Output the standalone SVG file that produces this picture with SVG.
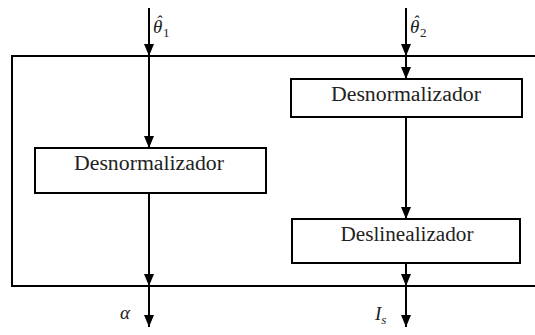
<svg xmlns="http://www.w3.org/2000/svg" width="535" height="335" viewBox="0 0 535 335">
<style>
.box{fill:#fff;stroke:#000;stroke-width:2}
.frame{fill:none;stroke:#000;stroke-width:2}
.c{stroke:#000;stroke-width:2;fill:none}
.t{font-family:'Liberation Serif','DejaVu Serif',serif;font-size:20px;fill:#222;text-anchor:middle}
.m{font-family:'Liberation Serif','DejaVu Serif',serif;font-style:italic;font-size:19px;fill:#222}
.s{font-family:'Liberation Serif','DejaVu Serif',serif;font-size:13px;font-style:normal}
</style>
<defs>
<marker id="a" markerUnits="userSpaceOnUse" markerWidth="12" markerHeight="10" viewBox="0 0 12 10" refX="12" refY="5" orient="auto">
<path d="M0,0 L12,5 L0,10 Z" fill="#000"/>
</marker>
</defs>
<rect id="frame" class="frame" x="12" y="56" width="540" height="230"/>
<g id="connectors">
<line class="c" x1="149" y1="8" x2="149" y2="56" marker-end="url(#a)"/>
<line class="c" x1="149" y1="56" x2="149" y2="148" marker-end="url(#a)"/>
<line class="c" x1="149" y1="193" x2="149" y2="286" marker-end="url(#a)"/>
<line class="c" x1="149" y1="286" x2="149" y2="327" marker-end="url(#a)"/>
<line class="c" x1="406" y1="8" x2="406" y2="56" marker-end="url(#a)"/>
<line class="c" x1="406" y1="56" x2="406" y2="79" marker-end="url(#a)"/>
<line class="c" x1="406" y1="117" x2="406" y2="219" marker-end="url(#a)"/>
<line class="c" x1="406" y1="263" x2="406" y2="286" marker-end="url(#a)"/>
<line class="c" x1="406" y1="286" x2="406" y2="327" marker-end="url(#a)"/>
</g>
<g id="desnorm1">
<rect class="box" x="35" y="148" width="231" height="45"/>
<text class="t" x="149" y="170" textLength="150" lengthAdjust="spacingAndGlyphs">Desnormalizador</text>
</g>
<g id="desnorm2">
<rect class="box" x="291" y="79" width="231" height="38"/>
<text class="t" x="406" y="101" textLength="150" lengthAdjust="spacingAndGlyphs">Desnormalizador</text>
</g>
<g id="deslin">
<rect class="box" x="292" y="219" width="228" height="44"/>
<text class="t" x="407" y="241" textLength="133" lengthAdjust="spacingAndGlyphs">Deslinealizador</text>
</g>
<g id="lbl-theta1">
<text class="m" x="153" y="33">θ<tspan x="156" y="27" style="font-size:17px">ˆ</tspan><tspan class="s" x="163" y="37">1</tspan></text>
</g>
<g id="lbl-theta2">
<text class="m" x="410" y="33">θ<tspan x="413" y="27" style="font-size:17px">ˆ</tspan><tspan class="s" x="420" y="37">2</tspan></text>
</g>
<g id="lbl-alpha">
<text class="m" x="120" y="319">α</text>
</g>
<g id="lbl-is">
<text class="m" x="375" y="320">I<tspan dy="4" style="font-size:13px">s</tspan></text>
</g>
</svg>
